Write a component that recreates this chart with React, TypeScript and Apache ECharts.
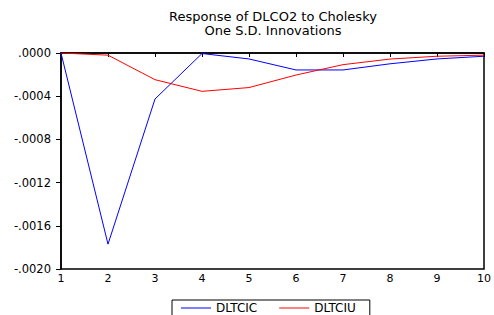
import React, { useEffect, useRef } from "react";
import * as echarts from "echarts";

const periods = [1, 2, 3, 4, 5, 6, 7, 8, 9, 10];
const dltcic = [0, -0.00177, -0.000426, -0.000005, -0.000055, -0.000157, -0.000157, -0.0001, -0.000055, -0.00003];
const dltciu = [0, -0.00002, -0.000247, -0.000355, -0.00032, -0.000204, -0.000108, -0.000056, -0.00003, -0.00002];
const titleLines = ["Response of DLCO2 to Cholesky", "One S.D. Innovations"];

function fmt(v: number): string {
  let s = Math.abs(v) < 1e-12 ? "0.0000" : v.toFixed(4);
  return s.replace(/^(-?)0\./, "$1.");
}

export default function App() {
  const ref = useRef<HTMLDivElement>(null);
  useEffect(() => {
    if (!ref.current) return;
    const chart = echarts.init(ref.current, null, { renderer: "svg" });
    const font = "DejaVu Sans, Liberation Sans, Arial, sans-serif";
    const lineIcon = "path://M0,0H30V1H0Z";
    chart.setOption({
      animation: false,
      backgroundColor: "#ffffff",
      title: titleLines.map((t, i) => ({
        text: t,
        left: 273,
        textAlign: "center",
        top: 10 + i * 14,
        padding: 0,
        textStyle: { fontFamily: font, fontSize: 13, fontWeight: "normal", color: "#000", lineHeight: 13 },
      })),
      grid: { left: 61, right: 8, top: 53, bottom: 46, show: true, borderColor: "#000", borderWidth: 1.5 },
      xAxis: {
        type: "value",
        min: 1,
        max: 10,
        interval: 1,
        axisLine: { lineStyle: { color: "#000", width: 1.5 } },
        axisTick: { show: true, length: 4, lineStyle: { color: "#000" } },
        splitLine: { show: false },
        axisLabel: { color: "#000", fontFamily: font, fontSize: 11, margin: 4 },
      },
      yAxis: {
        type: "value",
        min: -0.002,
        max: 0,
        interval: 0.0004,
        axisLine: { show: true, lineStyle: { color: "#000", width: 1.5 } },
        axisTick: { show: true, length: 5, lineStyle: { color: "#000" } },
        splitLine: { show: false },
        axisLabel: { color: "#000", fontFamily: font, fontSize: 11.5, margin: 10, formatter: (v: number) => fmt(v) },
      },
      legend: {
        left: 172,
        top: 300,
        itemWidth: 30,
        itemHeight: 1,
        itemGap: 22,
        padding: [2, 14, 6, 9],
        borderColor: "#000",
        borderWidth: 1,
        textStyle: { fontFamily: font, fontSize: 12, color: "#000", lineHeight: 12 },
        data: [
          { name: "DLTCIC", icon: lineIcon },
          { name: "DLTCIU", icon: lineIcon },
        ],
      },
      series: [
        {
          name: "DLTCIC",
          type: "line",
          data: periods.map((p, i) => [p, dltcic[i]]),
          symbol: "none",
          lineStyle: { color: "#0000ff", width: 1 },
          itemStyle: { color: "#0000ff" },
        },
        {
          name: "DLTCIU",
          type: "line",
          data: periods.map((p, i) => [p, dltciu[i]]),
          symbol: "none",
          lineStyle: { color: "#ff0000", width: 1 },
          itemStyle: { color: "#ff0000" },
        },
      ],
    });
    return () => chart.dispose();
  }, []);
  return <div ref={ref} style={{ width: 494, height: 315, position: "absolute", left: 0, top: 0 }} />;
}
